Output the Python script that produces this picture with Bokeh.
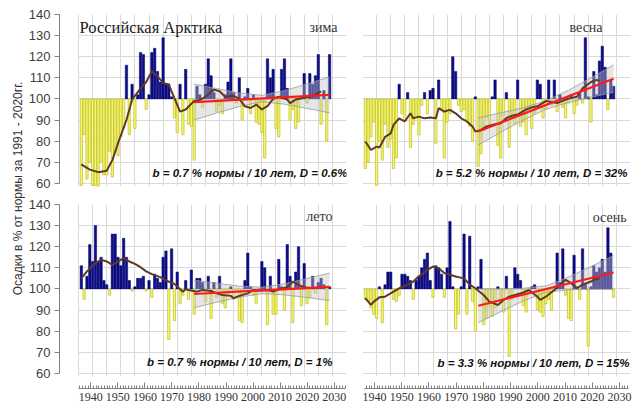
import math
from bokeh.plotting import figure
from bokeh.models import Range1d, LinearAxis, SingleIntervalTicker, Label
from bokeh.layouts import row, column
from bokeh.embed import file_html
from bokeh.resources import INLINE

# ---------------- data ----------------
years = list(range(1936, 2025))

winter = [59, 83, 62, 70, 59, 59, 58, 70, 64, 64, 75, 63, 75, 73, 82, 86, 116, 83, 107, 86,
          102, 122, 121, 95, 102, 122, 124, 113, 108, 129, 107, 107, 101, 91, 84, 107, 83, 114, 88, 87,
          71, 106, 102, 96, 107, 119, 111, 103, 94, 97, 93, 102, 108, 119, 103, 98, 110, 90, 101, 105,
          93, 102, 89, 88, 84, 72, 119, 110, 114, 86, 82, 114, 119, 105, 90, 95, 86, 89, 101, 112,
          98, 112, 107, 111, 121, 88, 104, 80, 121]
spring = [67, 70, 82, 89, 59, 80, 71, 88, 77, 81, 67, 72, 107, 93, 90, 103, 77, 88, 91, 83,
          97, 103, 93, 104, 105, 79, 109, 95, 72, 89, 93, 120, 113, 97, 94, 95, 90, 87, 80, 101,
          68, 74, 85, 91, 88, 101, 109, 78, 72, 92, 103, 77, 93, 88, 109, 87, 89, 83, 95, 86,
          93, 109, 107, 91, 95, 109, 97, 109, 94, 102, 96, 91, 98, 102, 93, 97, 103, 98, 129, 101,
          89, 113, 102, 118, 125, 115, 95, 109, 106]
summer = [111, 95, 106, 121, 113, 130, 113, 115, 104, 102, 97, 126, 126, 115, 111, 124, 115, 104, 99, 101,
          105, 105, 106, 99, 104, 96, 107, 105, 103, 115, 118, 76, 119, 85, 108, 93, 97, 104, 95, 109,
          88, 105, 105, 103, 94, 106, 86, 103, 96, 106, 93, 91, 97, 101, 95, 99, 85, 84, 104, 117,
          101, 97, 93, 100, 113, 110, 83, 106, 88, 88, 114, 101, 90, 121, 106, 84, 108, 120, 92, 112,
          93, 96, 106, 98, 103, 105, 102, 83, 101]
autumn = [95, 94, 91, 88, 86, 101, 84, 102, 108, 108, 95, 94, 97, 107, 107, 106, 104, 95, 104, 106,
          110, 114, 117, 104, 96, 111, 110, 107, 96, 110, 132, 101, 81, 88, 101, 126, 88, 125, 94, 80,
          101, 114, 83, 86, 92, 87, 91, 101, 94, 89, 106, 68, 95, 110, 107, 104, 92, 89, 98, 101,
          102, 90, 89, 87, 93, 95, 90, 99, 117, 103, 119, 97, 86, 85, 116, 101, 95, 119, 102, 73,
          101, 111, 108, 110, 114, 108, 129, 117, 96]

winter_smooth_years = [1936, 1939, 1942, 1945, 1947, 1949, 1952, 1954, 1957, 1959, 1961, 1963, 1965,
                       1967, 1968, 1971, 1973, 1976, 1978, 1980, 1983, 1985, 1987, 1990, 1992, 1994,
                       1996, 1998, 2000, 2002, 2004, 2006, 2009, 2010, 2012, 2015, 2017, 2019, 2021]
winter_smooth = [69, 66.5, 65.3, 66, 71, 79, 90, 99.7, 105, 108, 113, 110.7, 107.6,
                 106.8, 103.6, 94, 95, 99, 99.5, 101, 104.4, 103.6, 101, 101.5, 100, 96.5,
                 95.7, 97.3, 95, 96.6, 100, 101, 99.7, 98, 99.7, 100.5, 101, 102, 103.6]
spring_smooth_years = [1936, 1938, 1940, 1941, 1943, 1945, 1946, 1948, 1950, 1952, 1953, 1955, 1957,
                       1959, 1961, 1962, 1964, 1966, 1968, 1970, 1972, 1974, 1975, 1977, 1979, 1982,
                       1984, 1986, 1988, 1990, 1993, 1995, 1997, 2000, 2002, 2004, 2007, 2009, 2011,
                       2013, 2016, 2018, 2019]
spring_smooth = [79.8, 75.8, 77.4, 77, 82, 83.7, 87.7, 90.8, 89.3, 93.2, 90.8, 91.6, 90.8,
                 91.2, 90.8, 95.6, 94, 94.8, 93.2, 90.8, 89.3, 86.9, 84.5, 85.3, 87, 88,
                 88.5, 91, 92, 92.6, 95, 96, 96.5, 99, 98.5, 98, 99.7, 100.5, 101,
                 105, 108, 109, 108.5]
summer_smooth_years = [1936, 1938, 1941, 1943, 1945, 1947, 1950, 1951, 1953, 1955, 1957, 1959, 1961,
                       1964, 1966, 1969, 1970, 1972, 1973, 1974, 1977, 1979, 1982, 1984, 1986, 1989,
                       1990, 1992, 1995, 1997, 1999, 2002, 2004, 2006, 2009, 2011, 2013, 2015, 2018,
                       2020]
summer_smooth = [105, 108.3, 112.2, 113.8, 113, 111.4, 113.8, 114.6, 113, 111.9, 110.3, 108.3, 107,
                 105.6, 104, 102.4, 101.1, 98.7, 99.8, 99.5, 98.7, 99.5, 99, 97.9, 97.1, 96.7,
                 95.6, 96.7, 97.9, 99.5, 99.2, 99.5, 98.7, 99.8, 100.8, 103.5, 101.9, 100.8, 100.3,
                 100.6]
autumn_smooth_years = [1936, 1938, 1939, 1941, 1943, 1946, 1948, 1951, 1953, 1955, 1958, 1960, 1962,
                       1964, 1966, 1968, 1971, 1973, 1975, 1978, 1980, 1983, 1985, 1987, 1990, 1992,
                       1994, 1997, 1998, 2000, 2003, 2005, 2007, 2009, 2011, 2013, 2016, 2017, 2019]
autumn_smooth = [95.6, 92.4, 94, 96, 96.3, 98.7, 100.3, 102, 103.5, 106, 109, 110.6, 109.8,
                 107.5, 106.7, 105.9, 105, 102, 100.3, 97, 94, 92.4, 94.8, 96.3, 97.5, 98.3,
                 99.5, 96.3, 94.8, 96.3, 99.5, 102, 104.3, 102.7, 100.3, 102, 103.5, 104.3, 105]

trend_years = [1976, 2024]
winter_trend = [98.5, 101.9]
spring_trend = [84.6, 109.6]
summer_trend = [97.6, 101.0]
autumn_trend = [92.0, 107.8]

band_years = [1976, 1984, 1992, 2000, 2008, 2016, 2024]
winter_lo = [90.0, 93.3, 96.4, 98.7, 97.5, 95.5, 93.4]
winter_hi = [107.0, 104.9, 102.8, 101.7, 103.9, 107.1, 110.4]
spring_lo = [78.1, 84.2, 90.0, 95.1, 98.3, 100.8, 103.1]
spring_hi = [91.1, 93.4, 95.8, 99.1, 104.1, 110.0, 116.1]
summer_lo = [91.1, 93.7, 96.1, 97.8, 97.2, 95.9, 94.5]
summer_hi = [104.1, 102.7, 101.3, 100.8, 102.4, 104.9, 107.5]
autumn_lo = [84.0, 89.2, 94.3, 98.4, 99.6, 99.8, 99.8]
autumn_hi = [100.0, 100.0, 100.3, 101.4, 105.6, 110.6, 115.8]

season_names = ["зима", "весна", "лето", "осень"]
stat_texts = ["b = 0.7 % нормы / 10 лет, D = 0.6%",
              "b = 5.2 % нормы / 10 лет, D = 32%",
              "b = 0.7 % нормы / 10 лет, D = 1%",
              "b = 3.3 % нормы / 10 лет, D = 15%"]
title_text = "Российская Арктика"
ylabel_text = "Осадки в % от нормы за 1991 - 2020гг."
norm = 100

# ---------------- styling ----------------
BLUE, BLUE_LINE = "#0c0c8f", "#05055e"
YEL, YEL_LINE = "#f7f76b", "#bdbd2a"
GRID = "#d9d9d9"
SERIF = "Liberation Serif"
SANS = "Liberation Sans"


def try_set(obj, **kw):
    for k, v in kw.items():
        try:
            setattr(obj, k, v)
        except Exception:
            pass


def panel(vals, sm_x, sm_y, tr_y, lo, hi, season, stat, season_pos, stat_pos,
          left, bottom, title=None, axis_range=None, axis_bounds=None):
    xr = Range1d(1928.265, 2030) if left else Range1d(1935, 2030)
    yr = Range1d(52.81, 140) if bottom else Range1d(58.5, 140)
    p = figure(x_range=xr, y_range=yr,
               frame_width=287 if left else 268,
               frame_height=184 if bottom else 172,
               min_border_left=34 if left else 8,
               min_border_right=8 if left else 2,
               min_border_top=9 if bottom else 14,
               min_border_bottom=17 if bottom else 9,
               x_axis_location=None,
               y_axis_location="left" if left else None,
               toolbar_location=None, output_backend="svg")
    p.outline_line_color = None
    p.background_fill_color = "white"
    p.border_fill_color = "white"

    xg = p.xgrid[0]
    yg = p.ygrid[0]
    xg.ticker = SingleIntervalTicker(interval=5)
    yg.ticker = SingleIntervalTicker(interval=10)
    xg.grid_line_color = GRID
    yg.grid_line_color = GRID
    try_set(xg, bounds=(1935, 2030))
    try_set(yg, bounds=(60, 140))
    try_set(xg, cross_bounds=(58.5, 140))
    try_set(yg, cross_bounds=(1935, 2030))

    if left:
        ya = p.yaxis[0]
        ya.ticker = SingleIntervalTicker(interval=10)
        ya.bounds = (60, 140)
        ya.major_tick_out = 5
        ya.major_tick_in = 0
        ya.minor_tick_out = 0
        ya.minor_tick_in = 0
        ya.axis_line_color = "#808080"
        ya.major_tick_line_color = "#808080"
        ya.major_label_text_font = SANS
        ya.major_label_text_font_size = "13px"
        ya.major_label_text_color = "#404040"
        ya.major_label_standoff = 4

    if bottom:
        p.extra_x_ranges = {"ax": Range1d(*axis_range)}
        ax = LinearAxis(x_range_name="ax",
                        ticker=SingleIntervalTicker(interval=10, num_minor_ticks=10),
                        bounds=axis_bounds)
        ax.major_tick_in = 6
        ax.major_tick_out = 0
        ax.minor_tick_in = 3
        ax.minor_tick_out = 0
        ax.axis_line_color = "#808080"
        ax.major_tick_line_color = "#808080"
        ax.minor_tick_line_color = "#808080"
        ax.major_label_text_font = "Liberation Sans Narrow"
        ax.major_label_text_font_size = "12px"
        ax.major_label_text_color = "#333333"
        ax.major_label_standoff = 4
        p.add_layout(ax, "below")

    bx = [y for y, v in zip(years, vals) if v >= norm]
    bt = [v for v in vals if v >= norm]
    yx = [y for y, v in zip(years, vals) if v < norm]
    yb = [v for v in vals if v < norm]
    p.vbar(x=yx, width=0.8, top=norm, bottom=yb, fill_color=YEL, line_color=YEL_LINE, line_width=0.7)
    p.vbar(x=bx, width=0.85, bottom=norm, top=bt, fill_color=BLUE, line_color=BLUE_LINE, line_width=0.5)

    p.varea(x=band_years, y1=lo, y2=hi, fill_color="#c4c4c4", fill_alpha=0.42)
    p.line(band_years, lo, line_color="#9a9a9a", line_width=0.8)
    p.line(band_years, hi, line_color="#9a9a9a", line_width=0.8)

    p.line(sm_x, sm_y, line_color="#5e3a26", line_width=2)
    p.line(trend_years, tr_y, line_color="#ff1a1a", line_width=2.2)

    if title:
        p.add_layout(Label(x=1935.35, y=133.8, text=title, text_font=SERIF,
                           text_font_size="16.5px", text_color="#1a1a1a",
                           text_align="left", text_baseline="middle"))
    p.add_layout(Label(x=season_pos[0], y=season_pos[1], text=season, text_font=SERIF,
                       text_font_size="14px", text_color="#333333",
                       text_align="right", text_baseline="middle"))
    p.add_layout(Label(x=stat_pos[0], y=stat_pos[1], text=stat, text_font=SANS,
                       text_font_style="bold italic", text_font_size="11.5px",
                       text_color="#111111", text_align="right", text_baseline="middle"))
    return p


tl = panel(winter, winter_smooth_years, winter_smooth, winter_trend, winter_lo, winter_hi,
           season_names[0], stat_texts[0], (2026.8, 133.8), (2030.35, 65.1),
           left=True, bottom=False, title=title_text)
tr = panel(spring, spring_smooth_years, spring_smooth, spring_trend, spring_lo, spring_hi,
           season_names[1], stat_texts[1], (2020.1, 133.8), (2028.9, 65.1),
           left=False, bottom=False)
bl = panel(summer, summer_smooth_years, summer_smooth, summer_trend, summer_lo, summer_hi,
           season_names[2], stat_texts[2], (2025.0, 134.3), (2025.0, 65.6),
           left=True, bottom=True, axis_range=(1928.43, 2034.55), axis_bounds=(1935.3, 2034.3))
br = panel(autumn, autumn_smooth_years, autumn_smooth, autumn_trend, autumn_lo, autumn_hi,
           season_names[3], stat_texts[3], (2028.6, 133.8), (2029.6, 65.1),
           left=False, bottom=True, axis_range=(1935.59, 2034.04), axis_bounds=(1936.3, 2033.3))

lf = figure(width=25, height=405, x_range=(0, 1), y_range=(0, 1), min_border=0,
            x_axis_location=None, y_axis_location=None,
            toolbar_location=None, output_backend="svg")
lf.grid.visible = False
lf.outline_line_color = None
lf.add_layout(Label(x=0.68, y=0.536, text=ylabel_text, angle=math.pi / 2,
                    text_align="center", text_baseline="middle", text_font=SANS,
                    text_font_size="12px", text_color="#333333"))

layout = row(lf, column(row(tl, tr), row(bl, br)))

with open("out.html", "w") as f:
    f.write(file_html(layout, INLINE))
